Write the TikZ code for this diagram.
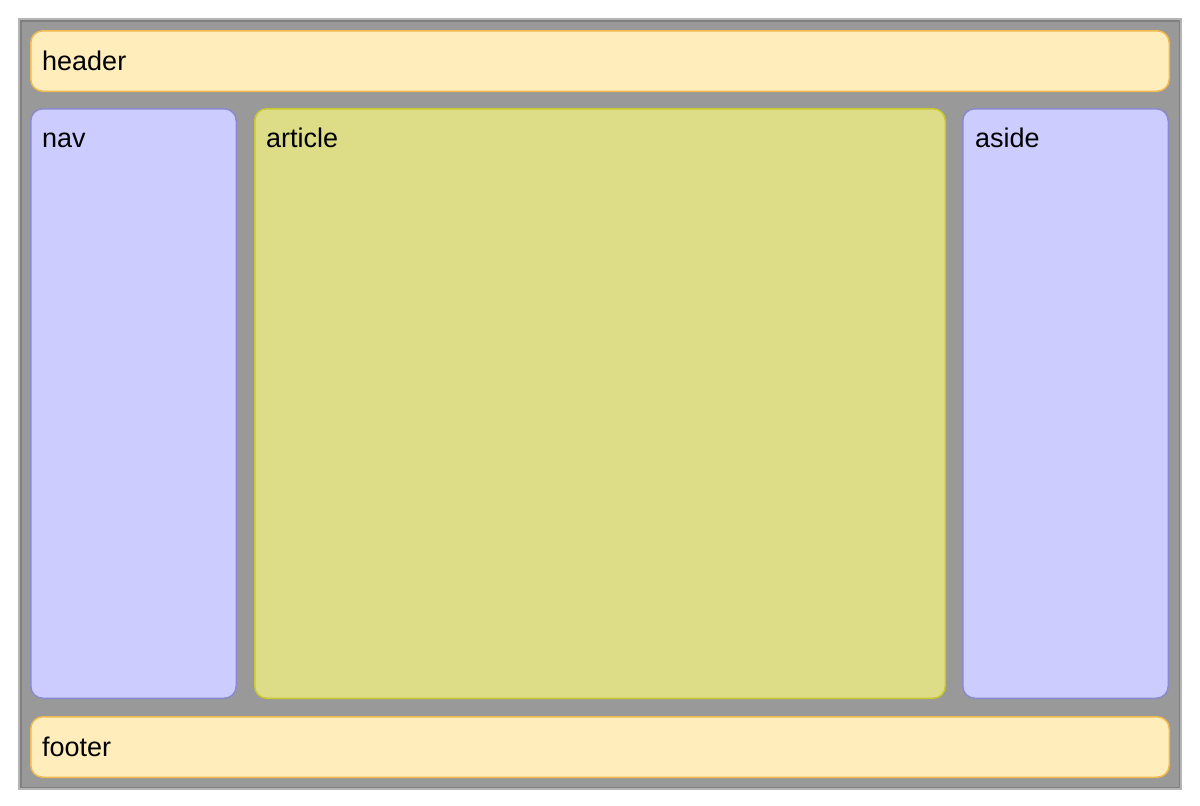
\documentclass[tikz,border=0pt]{standalone}
\usepackage{fontspec}
\setmainfont{Liberation Sans}
\definecolor{bgray}{HTML}{999999}
\definecolor{obord}{HTML}{B5B5B5}
\definecolor{ibord}{HTML}{808080}
\definecolor{hfill}{HTML}{FFEEBB}
\definecolor{hbord}{HTML}{F0B850}
\definecolor{nfill}{HTML}{CCCCFF}
\definecolor{nbord}{HTML}{8A8ACC}
\definecolor{afill}{HTML}{DDDD88}
\definecolor{abord}{HTML}{C8C832}
\begin{document}
\begin{tikzpicture}[x=1pt,y=-1pt,
  box/.style={rounded corners=12pt,line width=1.5pt},
  lbl/.style={anchor=base west,inner sep=0pt,font=\fontsize{27}{32}\selectfont}]
\useasboundingbox[fill=white] (0,0) rectangle (1200,806);
\fill[obord] (18,18) rectangle (1182,790);
\fill[ibord] (20,20) rectangle (1180,788);
\fill[bgray] (21.5,21.5) rectangle (1178.5,786.5);
\draw[box,fill=hfill,draw=hbord] (30.75,30.75) rectangle (1169.25,91.25);
\draw[box,fill=nfill,draw=nbord] (30.75,108.75) rectangle (236.25,698.25);
\draw[box,fill=afill,draw=abord] (254.75,108.75) rectangle (945.25,698.25);
\draw[box,fill=nfill,draw=nbord] (962.75,108.75) rectangle (1168.25,698.25);
\draw[box,fill=hfill,draw=hbord] (30.75,716.75) rectangle (1169.25,777.25);
\node[lbl] (header) at (42,70) {header};
\node[lbl] (nav) at (42,147) {nav};
\node[lbl] (article) at (266,147) {article};
\node[lbl] (aside) at (975,147) {aside};
\node[lbl] (footer) at (42,756) {footer};
\end{tikzpicture}
\end{document}
